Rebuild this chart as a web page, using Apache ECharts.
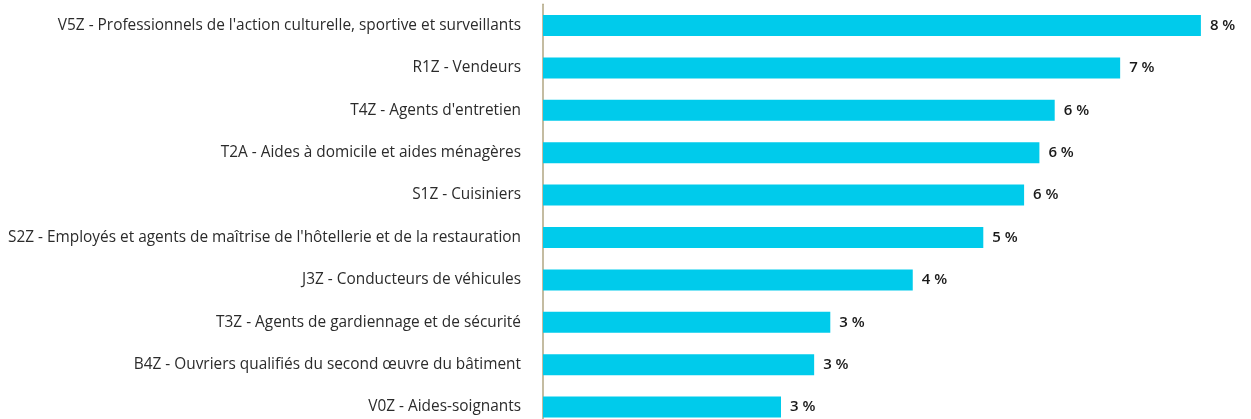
<!DOCTYPE html>
<html>
<head>
<meta charset="utf-8">
<script src="https://cdn.jsdelivr.net/npm/echarts@6/dist/echarts.min.js"></script>
<style>
html,body{margin:0;padding:0;background:#fff;overflow:hidden;}
#c{width:1251px;height:440px;}
</style>
</head>
<body>
<div id="c"></div>
<script>
const categories = [
  "V5Z - Professionnels de l'action culturelle, sportive et surveillants",
  "R1Z - Vendeurs",
  "T4Z - Agents d'entretien",
  "T2A - Aides à domicile et aides ménagères",
  "S1Z - Cuisiniers",
  "S2Z - Employés et agents de maîtrise de l'hôtellerie et de la restauration",
  "J3Z - Conducteurs de véhicules",
  "T3Z - Agents de gardiennage et de sécurité",
  "B4Z - Ouvriers qualifiés du second œuvre du bâtiment",
  "V0Z - Aides-soignants"
];
const values = [7.74, 6.79, 6.02, 5.84, 5.66, 5.18, 4.35, 3.38, 3.19, 2.80];

const chart = echarts.init(document.getElementById('c'), null, {renderer: 'canvas'});
chart.setOption({
  animation: false,
  grid: {left: 543, right: 11, top: 4.3, bottom: 11.7, containLabel: false},
  xAxis: {
    type: 'value', min: 0, max: 8.2, show: false
  },
  yAxis: {
    type: 'category', data: categories, inverse: true,
    axisLine: {show: true, lineStyle: {color: '#b1a682', width: 1.5}},
    axisTick: {show: false},
    axisLabel: {
      margin: 22, color: '#2b2b2b', fontSize: 15.4,
      fontFamily: '"Open Sans", sans-serif'
    }
  },
  series: [{
    type: 'bar', data: values, barWidth: 21,
    itemStyle: {color: '#00cbeb'},
    label: {
      show: true, position: 'right', distance: 9,
      color: '#1a1a1a', fontSize: 15, fontWeight: 600,
      fontFamily: '"Open Sans", sans-serif',
      formatter: p => Math.round(p.value) + ' %'
    }
  }]
});
</script>
</body>
</html>
